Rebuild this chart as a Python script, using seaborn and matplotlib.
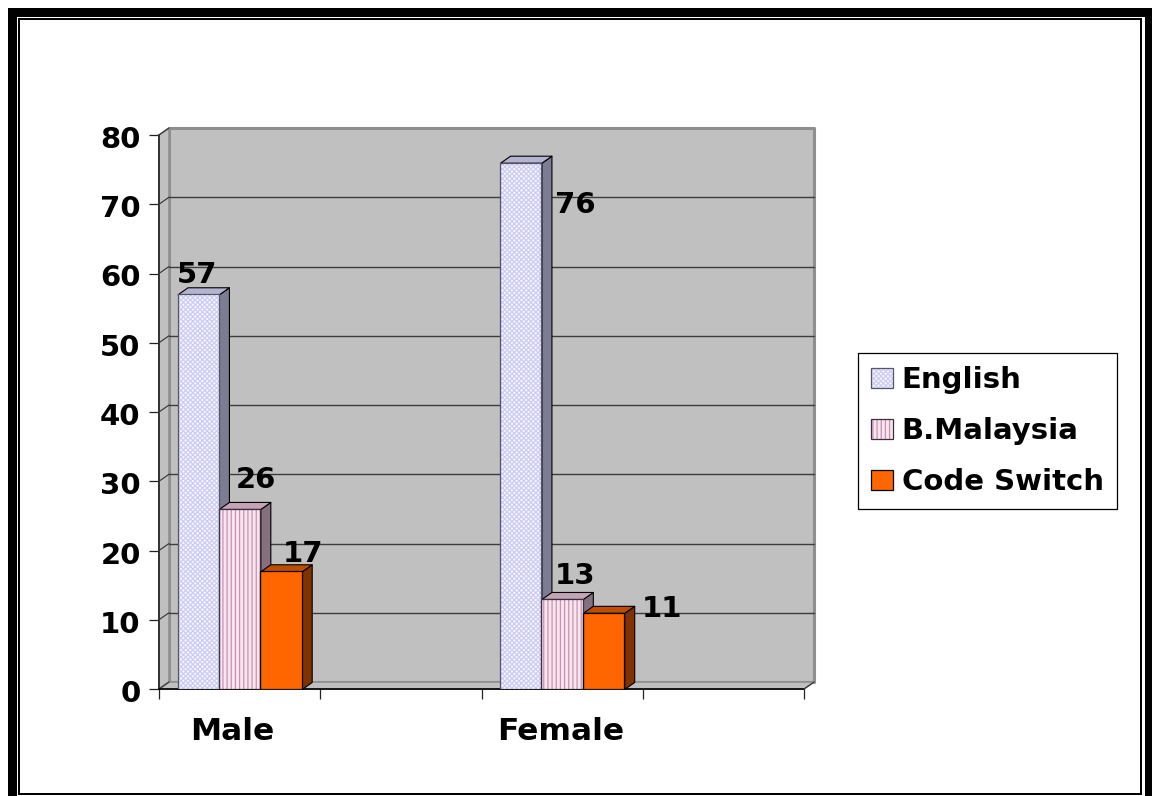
import matplotlib
matplotlib.use("Agg")
import matplotlib.pyplot as plt
import pandas as pd
import seaborn as sns
from matplotlib.collections import PolyCollection
from matplotlib.legend_handler import HandlerBase
from matplotlib.patches import Patch, Rectangle
from matplotlib.transforms import Affine2D, IdentityTransform

groups = ["Male", "Female"]
languages = ["English", "B.Malaysia", "Code Switch"]
english = [57, 76]
malaysia = [26, 13]
code_switch = [17, 11]
y_ticks = [0, 10, 20, 30, 40, 50, 60, 70, 80]

# Category slots: every group is followed by an empty slot
slots = ["Male", " ", "Female", "  "]

FACE = {"English": "#f7f7ff", "B.Malaysia": "#f8e6ef", "Code Switch": "#ff6600"}
TEXTURE = {"English": "#ccccf4", "B.Malaysia": "#c890b4", "Code Switch": "#ff6600"}
HATCH = {"English": "xxxxxxx", "B.Malaysia": "||||", "Code Switch": ""}
OUTLINE = {"English": "#55556a", "B.Malaysia": "#3a3040", "Code Switch": "black"}
SIDE = {"English": "#7c7c92", "B.Malaysia": "#86707f", "Code Switch": "#803300"}
TOP = {"English": "#b4b4d0", "B.Malaysia": "#c4a4b6", "Code Switch": "#bf4d00"}

# Pixel offsets of each value label from the top centre of its bar
LABEL_OFFSETS = {
    "English": [(-1, 19), (55, -42)],
    "B.Malaysia": [(16, 29), (13, 23)],
    "Code Switch": [(22, 17), (58, 4)],
}
# Horizontal nudge of the group names, in pixels
GROUP_NUDGE = [-7, -1]

DEPTH = (10, 7)
W, H = 1152, 796
DPI = 100
TEXT_SIZE = 21
GROUP_SIZE = 22.5

sns.set_style("white")
plt.rcParams["font.family"] = ["DejaVu Sans"]
plt.rcParams["font.weight"] = "bold"
plt.rcParams["hatch.linewidth"] = 0.9

fig = plt.figure(figsize=(W / DPI, H / DPI), dpi=DPI, facecolor="white")
ax = fig.add_axes([159 / W, (H - 689) / H, 645 / W, 554 / H])

df = pd.DataFrame({
    "group": groups * 3,
    "language": [l for l in languages for _ in groups],
    "count": english + malaysia + code_switch,
})
sns.barplot(data=df, x="group", y="count", hue="language", order=slots,
            hue_order=languages, width=0.77, dodge=True, gap=0, legend=False,
            palette=FACE, saturation=1, ax=ax, zorder=5)

ax.set_xlim(-0.5, 3.5)
ax.set_ylim(0, 80)
ax.set_xlabel("")
ax.set_ylabel("")
ax.patch.set_visible(False)
for spine in ax.spines.values():
    spine.set_visible(False)

fig.canvas.draw()
to_px = ax.transData.transform
shift = Affine2D().translate(*DEPTH)
dx, dy = DEPTH

# Chart walls built from the axes box
(x0, y0), (x1, y1) = ax.transAxes.transform([(0, 0), (1, 1)])
wall_kw = dict(transform=IdentityTransform(), clip_on=False)
ax.add_collection(PolyCollection(
    [[(x0 + dx, y0 + dy), (x1 + dx, y0 + dy), (x1 + dx, y1 + dy), (x0 + dx, y1 + dy)]],
    facecolors="#c0c0c0", edgecolors="#8f8f8f", linewidths=2.2, zorder=0, **wall_kw))
ax.add_collection(PolyCollection(
    [[(x0, y0), (x0 + dx, y0 + dy), (x0 + dx, y1 + dy), (x0, y1)],
     [(x0, y0), (x1, y0), (x1 + dx, y0 + dy), (x0 + dx, y0 + dy)]],
    facecolors="#c0c0c0", edgecolors="#8f8f8f", linewidths=1.2, zorder=0.5, **wall_kw))

# Gridlines on the back wall, joined to the front ticks by a short slant
for v in y_ticks[1:-1]:
    ax.plot([0, 1], [v, v], color="#3c3c3c", lw=1.0, clip_on=False, zorder=1,
            transform=ax.get_yaxis_transform() + shift)
for v in y_ticks:
    (px, py) = to_px((-0.5, v))
    ax.plot([px, px + dx], [py, py + dy], color="#333333", lw=0.8, clip_on=False,
            transform=IdentityTransform(), zorder=1.5)

# Front edges of the frame
ax.plot([x0, x0], [y0, y1], color="#333333", lw=1.4, clip_on=False,
        transform=IdentityTransform(), zorder=2)
ax.plot([x0, x1], [y0, y0], color="black", lw=1.2, clip_on=False,
        transform=IdentityTransform(), zorder=2)
ax.plot([x1, x1 + dx], [y0, y0 + dy], color="#333333", lw=0.8, clip_on=False,
        transform=IdentityTransform(), zorder=2)

# Faces of each bar, side and top first, then texture and outline on the front
for lang, container in zip(languages, ax.containers):
    for bar, (ox, oy) in zip(container, LABEL_OFFSETS[lang]):
        left, bottom = bar.get_xy()
        right, top = left + bar.get_width(), bottom + bar.get_height()
        (xl, yb), (xr, yt) = to_px([(left, bottom), (right, top)])
        side = [(xr, yb), (xr + dx, yb + dy), (xr + dx, yt + dy), (xr, yt)]
        cap = [(xl, yt), (xr, yt), (xr + dx, yt + dy), (xl + dx, yt + dy)]
        ax.add_collection(PolyCollection([side], facecolors=SIDE[lang], edgecolors="black",
                                         linewidths=0.8, zorder=3, **wall_kw))
        ax.add_collection(PolyCollection([cap], facecolors=TOP[lang], edgecolors="black",
                                         linewidths=0.8, zorder=3, **wall_kw))
        bar.set_edgecolor(TEXTURE[lang])
        bar.set_linewidth(0)
        bar.set_hatch(HATCH[lang])
        ax.add_patch(Rectangle((left, bottom), bar.get_width(), bar.get_height(), fill=False,
                               ec=OUTLINE[lang], lw=0.9, zorder=6))
        ax.annotate(f"{bar.get_height():.0f}", (left + bar.get_width() / 2, top),
                    xytext=(ox * 72 / DPI, oy * 72 / DPI), textcoords="offset points",
                    ha="center", va="center", fontsize=TEXT_SIZE, fontweight="bold",
                    color="black", zorder=8, annotation_clip=False)

# Axis ticks: values on the left, category boundaries along the bottom
ax.set_yticks(y_ticks)
ax.tick_params(axis="y", which="major", left=True, length=7.2, width=0.9, color="#222222",
               pad=6, labelsize=TEXT_SIZE, labelcolor="black")
ax.set_xticks([-0.5, 0.5, 1.5, 2.5, 3.5], minor=True)
ax.set_xticks([0, 2])
ax.set_xticklabels(groups)
ax.tick_params(axis="x", which="minor", bottom=True, length=7, width=0.9, color="#222222")
ax.tick_params(axis="x", which="major", bottom=False, pad=17, labelsize=GROUP_SIZE, labelcolor="black")
for lbl, nudge in zip(ax.get_xticklabels(), GROUP_NUDGE):
    lbl.set_transform(lbl.get_transform() + Affine2D().translate(nudge, 0))
    lbl.set_fontweight("bold")
for lbl in ax.get_yticklabels():
    lbl.set_transform(lbl.get_transform() + Affine2D().translate(0, -2))
    lbl.set_fontweight("bold")


class SwatchHandler(HandlerBase):
    """Legend key: textured fill with a separate dark outline."""

    def create_artists(self, legend, orig, xd, yd, width, height, fontsize, trans):
        lang = orig.get_label()
        fill = Rectangle((-xd, -yd), width, height, facecolor=FACE[lang], edgecolor=TEXTURE[lang],
                         hatch=HATCH[lang], linewidth=0, transform=trans)
        edge = Rectangle((-xd, -yd), width, height, fill=False, edgecolor=OUTLINE[lang],
                         linewidth=0.9, transform=trans)
        return [fill, edge]


handles = [Patch(label=l) for l in languages]
leg = fig.legend(handles=handles, loc="center left", bbox_to_anchor=(858 / W, (H - 431) / H),
                 handler_map={Patch: SwatchHandler()},
                 prop={"size": TEXT_SIZE, "weight": "bold"}, labelcolor="black", frameon=True,
                 fancybox=False, edgecolor="black", framealpha=1, borderaxespad=0, borderpad=0.44,
                 labelspacing=0.78, handlelength=0.76, handleheight=0.68, handletextpad=0.3)
leg.get_frame().set_linewidth(0.9)


# Double border around the figure
def frame(left, top, right, bottom, lw):
    fig.add_artist(Rectangle((left, H - bottom), right - left, bottom - top, fill=False,
                             ec="black", lw=lw * 72 / DPI, transform=IdentityTransform()))


frame(11.5, 12, 1148.5, 820, 9)
frame(19, 19, 1141, 794, 2)

fig.savefig("out.png", dpi=DPI)
